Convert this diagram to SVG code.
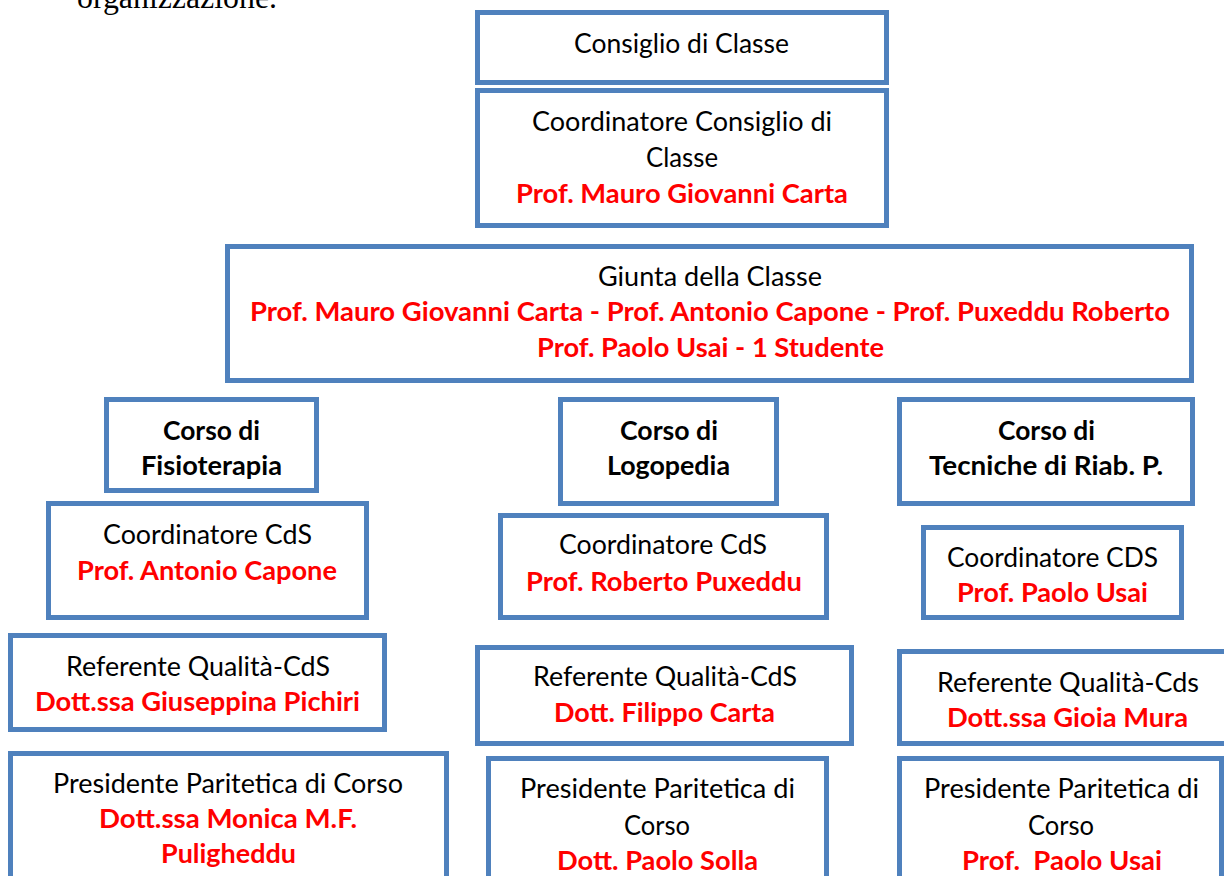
<svg xmlns="http://www.w3.org/2000/svg" width="1224" height="876" viewBox="0 0 1224 876">
<style>
.box{fill:#fff;stroke:#4F81BD;stroke-width:5}
.t{font-family:Lato,"Open Sans","Liberation Sans",sans-serif;font-size:26px;fill:#000;text-anchor:middle}
.b{font-weight:bold}
.r{fill:#FF0000;font-weight:bold}
.serif{font-family:"Liberation Serif","Times New Roman",serif;font-size:32px;fill:#000}
</style>
<rect width="1224" height="876" fill="#fff"/>
<text class="serif" x="77" y="8" textLength="200" lengthAdjust="spacingAndGlyphs">organizzazione.</text>
<g id="connectors"></g>

<g id="consiglio">
<rect class="box" x="477.5" y="12.5" width="409" height="70"/>
<text class="t" x="681.5" y="53" textLength="215" lengthAdjust="spacingAndGlyphs">Consiglio di Classe</text>
</g>
<g id="coordinatore-consiglio">
<rect class="box" x="477.5" y="90.5" width="409" height="135"/>
<text class="t" x="682" y="131" textLength="300" lengthAdjust="spacingAndGlyphs">Coordinatore Consiglio di</text>
<text class="t" x="682" y="167" textLength="72" lengthAdjust="spacingAndGlyphs">Classe</text>
<text class="t r" x="682" y="203" textLength="332" lengthAdjust="spacingAndGlyphs">Prof. Mauro Giovanni Carta</text>
</g>
<g id="giunta">
<rect class="box" x="227.5" y="246.5" width="964" height="134"/>
<text class="t" x="710" y="286" textLength="224" lengthAdjust="spacingAndGlyphs">Giunta della Classe</text>
<text class="t r" x="710" y="321" textLength="920" lengthAdjust="spacingAndGlyphs">Prof. Mauro Giovanni Carta - Prof. Antonio Capone - Prof. Puxeddu Roberto</text>
<text class="t r" x="710.5" y="357" textLength="347" lengthAdjust="spacingAndGlyphs">Prof. Paolo Usai - 1 Studente</text>
</g>

<g id="corso-fisioterapia">
<rect class="box" x="106.5" y="399.5" width="210" height="91"/>
<text class="t b" x="211.5" y="440" textLength="97" lengthAdjust="spacingAndGlyphs">Corso di</text>
<text class="t b" x="211.5" y="475" textLength="141" lengthAdjust="spacingAndGlyphs">Fisioterapia</text>
</g>
<g id="coord-fisioterapia">
<rect class="box" x="48.5" y="503.5" width="318" height="114"/>
<text class="t" x="207.5" y="544" textLength="209" lengthAdjust="spacingAndGlyphs">Coordinatore CdS</text>
<text class="t r" x="207" y="580" textLength="260" lengthAdjust="spacingAndGlyphs">Prof. Antonio Capone</text>
</g>
<g id="ref-fisioterapia">
<rect class="box" x="10.5" y="635.5" width="374" height="94"/>
<text class="t" x="198" y="676" textLength="264" lengthAdjust="spacingAndGlyphs">Referente Qualità-CdS</text>
<text class="t r" x="197.5" y="711" textLength="325" lengthAdjust="spacingAndGlyphs">Dott.ssa Giuseppina Pichiri</text>
</g>
<g id="pres-fisioterapia">
<rect class="box" x="10.5" y="753.5" width="436" height="200"/>
<text class="t" x="228" y="793" textLength="350" lengthAdjust="spacingAndGlyphs">Presidente Paritetica di Corso</text>
<text class="t r" x="228" y="828" textLength="258" lengthAdjust="spacingAndGlyphs">Dott.ssa Monica M.F.</text>
<text class="t r" x="228.5" y="863" textLength="135" lengthAdjust="spacingAndGlyphs">Puligheddu</text>
</g>

<g id="corso-logopedia">
<rect class="box" x="560.5" y="399.5" width="216" height="104"/>
<text class="t b" x="669" y="440" textLength="98" lengthAdjust="spacingAndGlyphs">Corso di</text>
<text class="t b" x="668.5" y="475" textLength="123" lengthAdjust="spacingAndGlyphs">Logopedia</text>
</g>
<g id="coord-logopedia">
<rect class="box" x="500.5" y="515.5" width="326" height="102"/>
<text class="t" x="663" y="554" textLength="208" lengthAdjust="spacingAndGlyphs">Coordinatore CdS</text>
<text class="t r" x="664" y="591" textLength="276" lengthAdjust="spacingAndGlyphs">Prof. Roberto Puxeddu</text>
</g>
<g id="ref-logopedia">
<rect class="box" x="477.5" y="647.5" width="374" height="96"/>
<text class="t" x="665" y="686" textLength="264" lengthAdjust="spacingAndGlyphs">Referente Qualità-CdS</text>
<text class="t r" x="664.5" y="722" textLength="221" lengthAdjust="spacingAndGlyphs">Dott. Filippo Carta</text>
</g>
<g id="pres-logopedia">
<rect class="box" x="488.5" y="758.5" width="338" height="200"/>
<text class="t" x="657.5" y="798" textLength="275" lengthAdjust="spacingAndGlyphs">Presidente Paritetica di</text>
<text class="t" x="657" y="835" textLength="66" lengthAdjust="spacingAndGlyphs">Corso</text>
<text class="t r" x="657.5" y="870" textLength="201" lengthAdjust="spacingAndGlyphs">Dott. Paolo Solla</text>
</g>

<g id="corso-tecniche">
<rect class="box" x="899.5" y="399.5" width="293" height="104"/>
<text class="t b" x="1046.5" y="440" textLength="97" lengthAdjust="spacingAndGlyphs">Corso di</text>
<text class="t b" x="1046" y="475" textLength="234" lengthAdjust="spacingAndGlyphs">Tecniche di Riab. P.</text>
</g>
<g id="coord-tecniche">
<rect class="box" x="923.5" y="527.5" width="258" height="90"/>
<text class="t" x="1052.5" y="567" textLength="211" lengthAdjust="spacingAndGlyphs">Coordinatore CDS</text>
<text class="t r" x="1052.5" y="602" textLength="191" lengthAdjust="spacingAndGlyphs">Prof. Paolo Usai</text>
</g>
<g id="ref-tecniche">
<rect class="box" x="899.5" y="651.5" width="400" height="92"/>
<text class="t" x="1068" y="692" textLength="262" lengthAdjust="spacingAndGlyphs">Referente Qualità-Cds</text>
<text class="t r" x="1067.5" y="727" textLength="241" lengthAdjust="spacingAndGlyphs">Dott.ssa Gioia Mura</text>
</g>
<g id="pres-tecniche">
<rect class="box" x="899.5" y="758.5" width="322" height="200"/>
<text class="t" x="1061.5" y="798" textLength="275" lengthAdjust="spacingAndGlyphs">Presidente Paritetica di</text>
<text class="t" x="1061" y="835" textLength="66" lengthAdjust="spacingAndGlyphs">Corso</text>
<text class="t r" x="1062" y="870" textLength="200" lengthAdjust="spacingAndGlyphs" xml:space="preserve">Prof.  Paolo Usai</text>
</g>
</svg>
